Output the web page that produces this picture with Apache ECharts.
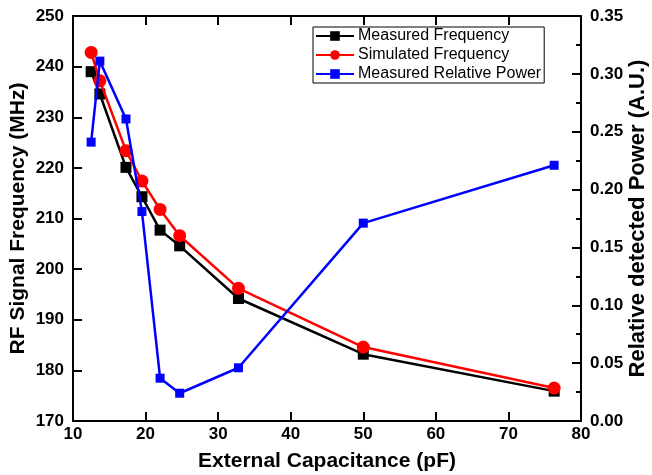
<!DOCTYPE html>
<html>
<head>
<meta charset="utf-8">
<script src="https://cdn.jsdelivr.net/npm/echarts@6/dist/echarts.min.js"></script>
<style>html,body{margin:0;padding:0;background:#fff}#c{width:652px;height:475px}</style>
</head>
<body>
<div id="c"></div>
<script>
const capacitance = [12.5, 13.7, 17.3, 19.5, 22.0, 24.7, 32.8, 50.0, 76.3];
const measuredFreq = [239.0, 234.6, 220.1, 214.3, 207.7, 204.6, 194.2, 183.2, 175.9];
const simulatedFreq = [242.8, 237.2, 223.4, 217.4, 211.8, 206.6, 196.2, 184.6, 176.5];
const relativePower = [0.241, 0.311, 0.261, 0.181, 0.037, 0.024, 0.046, 0.171, 0.221];
const seriesNames = ['Measured Frequency', 'Simulated Frequency', 'Measured Relative Power'];
const xTitle = 'External Capacitance (pF)';
const yLeftTitle = 'RF Signal Frequency (MHz)';
const yRightTitle = 'Relative detected Power (A.U.)';

const pair = (xs, ys) => xs.map((x, i) => [x, ys[i]]);
const FONT = '"Liberation Sans", Arial, sans-serif';
const axisLine = { show: true, onZero: false, lineStyle: { color: '#000', width: 2 } };
const tick = { show: true, inside: true, length: 9, lineStyle: { color: '#000', width: 2 } };
const label = { color: '#000', fontFamily: FONT, fontWeight: 'bold', fontSize: 17 };
const nameStyle = { color: '#000', fontFamily: FONT, fontWeight: 'bold', fontSize: 21 };

const chart = echarts.init(document.getElementById('c'), null, { renderer: 'canvas' });
chart.setOption({
  backgroundColor: '#fff',
  animation: false,
  grid: { left: 73, right: 71, top: 16, bottom: 54, containLabel: false, outerBoundsMode: 'none' },
  legend: {
    orient: 'vertical', left: 313, top: 27,
    data: seriesNames,
    itemWidth: 38, itemHeight: 12, itemGap: 3,
    padding: [1, 3, 1, 2],
    borderColor: '#000', borderWidth: 1, borderRadius: 0,
    backgroundColor: '#fff',
    textStyle: { color: '#000', fontFamily: FONT, fontSize: 16, padding: [0, 0, 0, -1] }
  },
  xAxis: [{
    type: 'value', position: 'bottom', min: 10, max: 80, interval: 10,
    name: xTitle, nameLocation: 'middle', nameGap: 30, nameMoveOverlap: false, nameTextStyle: nameStyle,
    axisLine, axisTick: tick, axisLabel: Object.assign({ margin: 5 }, label),
    splitLine: { show: false }
  }, {
    type: 'value', position: 'top', min: 10, max: 80, interval: 10,
    axisLine, axisTick: tick, axisLabel: { show: false }, splitLine: { show: false }
  }],
  yAxis: [{
    type: 'value', position: 'left', min: 170, max: 250, interval: 10,
    name: yLeftTitle, nameLocation: 'middle', nameGap: 44, nameMoveOverlap: false, nameTextStyle: nameStyle,
    axisLine, axisTick: tick, axisLabel: Object.assign({ margin: 9 }, label),
    splitLine: { show: false }
  }, {
    type: 'value', position: 'right', min: 0, max: 0.35, interval: 0.05,
    name: yRightTitle, nameLocation: 'middle', nameGap: 46, nameMoveOverlap: false,
    nameTextStyle: Object.assign({}, nameStyle, { fontSize: 22 }),
    axisLine, axisTick: tick,
    minorTick: { show: true, splitNumber: 2, length: 5, lineStyle: { color: '#000', width: 2 } },
    axisLabel: Object.assign({ margin: 9, formatter: v => v.toFixed(2) }, label),
    splitLine: { show: false }, minorSplitLine: { show: false }
  }],
  series: [{
    name: seriesNames[0], type: 'line', xAxisIndex: 0, yAxisIndex: 0,
    data: pair(capacitance, measuredFreq),
    symbol: 'rect', symbolSize: 11,
    lineStyle: { color: '#000', width: 2.5 }, itemStyle: { color: '#000' }, z: 2
  }, {
    name: seriesNames[1], type: 'line', xAxisIndex: 0, yAxisIndex: 0,
    data: pair(capacitance, simulatedFreq),
    symbol: 'circle', symbolSize: 13,
    lineStyle: { color: '#ff0000', width: 2.5 }, itemStyle: { color: '#ff0000' }, z: 3
  }, {
    name: seriesNames[2], type: 'line', xAxisIndex: 0, yAxisIndex: 1,
    data: pair(capacitance, relativePower),
    symbol: 'rect', symbolSize: 9,
    lineStyle: { color: '#0000ff', width: 2.5 }, itemStyle: { color: '#0000ff' }, z: 4
  }]
});
</script>
</body>
</html>
